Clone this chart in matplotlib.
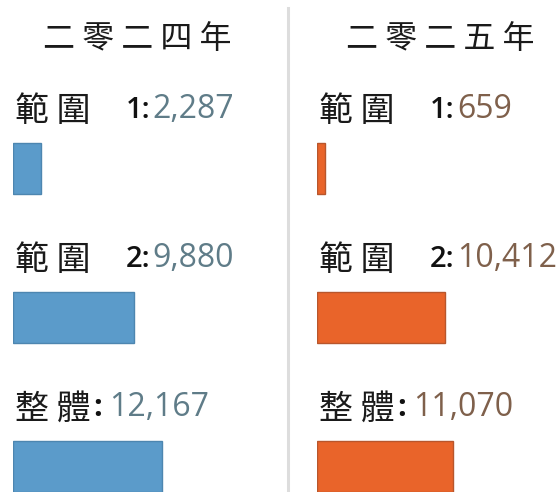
import matplotlib
matplotlib.use("Agg")
import matplotlib.pyplot as plt
from matplotlib.lines import Line2D

plt.rcParams['font.family'] = ['Noto Sans CJK TC', 'DejaVu Sans']

years = ["二零二四年", "二零二五年"]
cats = ["範圍", "範圍", "整體"]
cat_nums = ["1:", "2:", ""]
values_2024 = [2287, 9880, 12167]
values_2025 = [659, 10412, 11070]
bar_colors = ["#5b9bca", "#e9642a"]
edge_colors = ["#4d86b0", "#b8562c"]
value_colors = ["#5f7c88", "#7f604b"]

W, H = 560, 492
fig = plt.figure(figsize=(W / 100, H / 100), dpi=100)

px_per_unit = 149 / 12167
row_px = 149.0
top_center = 168.5


def make_axes(left_px, width_px):
    ax = fig.add_axes([left_px / W, 0, width_px / W, 1])
    ax.set_xlim(0, width_px / px_per_unit)
    ax.set_ylim((H - top_center) / row_px, -top_center / row_px)
    ax.axis('off')
    return ax


panels = [(13, 262, values_2024, 0), (317, 240, values_2025, 1)]
title_x = [137, 440]

for (left, width, vals, k) in panels:
    ax = make_axes(left, width)
    ax.barh(range(len(vals)), vals, height=51 / row_px, color=bar_colors[k],
            edgecolor=edge_colors[k], linewidth=1.0, align='center')
    for i, (c, n, v) in enumerate(zip(cats, cat_nums, vals)):
        ylab = i - 0.34
        t1 = ax.annotate(" ".join(c), xy=(0, ylab), xycoords='data', xytext=(1.5, -2),
                         textcoords='offset points', ha='left', va='baseline',
                         fontsize=24.5, color='#1a1a1a',
                         family=['Noto Sans CJK TC', 'DejaVu Sans'])
        if n:
            t2 = ax.annotate(n, xy=(1, ylab), xycoords=(t1, 'data'),
                             xytext=(25, 0), textcoords='offset points',
                             ha='left', va='baseline', fontsize=21,
                             fontweight='semibold', color='#111111',
                             family=['Open Sans', 'DejaVu Sans'])
            gap = 2
        else:
            t2 = ax.annotate(":", xy=(1, ylab), xycoords=(t1, 'data'),
                             xytext=(2, 0), textcoords='offset points',
                             ha='left', va='baseline', fontsize=22,
                             fontweight='bold', color='#111111',
                             family=['Open Sans', 'DejaVu Sans'])
            gap = 5
        ax.annotate(f"{v:,}", xy=(1, ylab), xycoords=(t2, 'data'),
                    xytext=(gap, 0), textcoords='offset points',
                    ha='left', va='baseline', fontsize=23,
                    color=value_colors[k],
                    family=['Open Sans', 'DejaVu Sans'])
    fig.text(title_x[k] / W, 1 - 48 / H, " ".join(years[k]), ha='center',
             va='baseline', fontsize=23, fontweight='medium', color='#1a1a1a',
             family=['Noto Sans CJK TC', 'DejaVu Sans'])

fig.add_artist(Line2D([288 / W, 288 / W], [0, 1 - 8 / H],
                      transform=fig.transFigure, color='#dddddd', linewidth=2.2))

fig.savefig("out.png", dpi=100, facecolor='white')
